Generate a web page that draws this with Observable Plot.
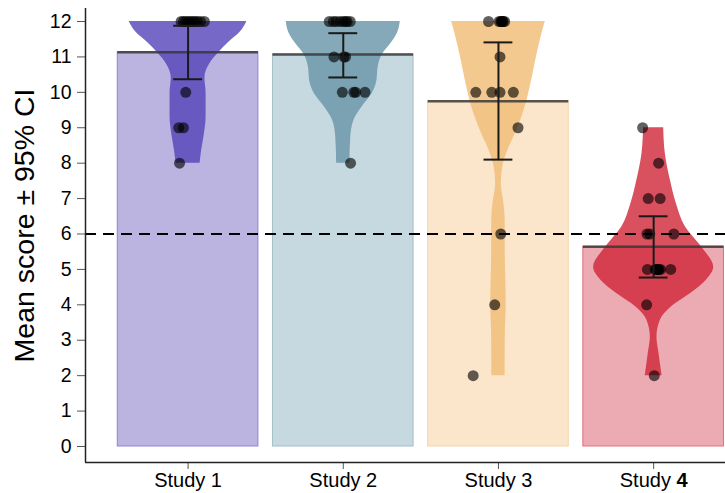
<!DOCTYPE html>
<html>
<head>
<meta charset="utf-8">
<script src="https://cdn.jsdelivr.net/npm/d3@7"></script>
<script src="https://cdn.jsdelivr.net/npm/@observablehq/plot@0.6"></script>
<style>
  html, body { margin: 0; padding: 0; background: #fff; }
  #chart { width: 725px; height: 493px; }
</style>
</head>
<body>
<div id="chart"></div>
<script>
// ---- data ----
const studies = ["Study 1", "Study 2", "Study 3", "Study 4"];
const yTicks = [0, 1, 2, 3, 4, 5, 6, 7, 8, 9, 10, 11, 12];
const means  = [11.13, 11.07, 9.75, 5.64];
const ciLow  = [10.37, 10.42, 8.10, 4.77];
const ciHigh = [11.88, 11.67, 11.41, 6.50];
const threshold = 6;

// individual scores and their horizontal jitter (fraction of a category step)
const scores1 = [12, 12, 12, 12, 12, 12, 12, 12, 12, 12, 10, 9, 9, 8];
const jitter1 = [-0.045, -0.03, -0.015, 0, 0.015, 0.03, 0.045, 0.06, 0.08, 0.105, -0.015, -0.06, -0.03, -0.055];
const scores2 = [12, 12, 12, 12, 12, 12, 12, 12, 11, 11, 11, 10, 10, 10, 10, 8];
const jitter2 = [-0.09, -0.064, -0.045, -0.02, 0, 0.015, 0.025, 0.045, -0.06, 0.004, 0.015, -0.006, 0.068, 0.08, 0.14, 0.047];
const scores3 = [12, 12, 12, 12, 12, 12, 12, 11, 10, 10, 10, 10, 9, 6, 4, 2];
const jitter3 = [-0.064, 0.004, 0.015, 0.02, 0.026, 0.03, 0.04, 0.01, -0.146, -0.043, 0.01, 0.096, 0.126, 0.015, -0.024, -0.163];
const scores4 = [9, 8, 7, 7, 6, 6, 6, 5, 5, 5, 5, 5, 5, 5, 5, 4, 2];
const jitter4 = [-0.071, 0.032, -0.035, 0.042, -0.043, -0.025, 0.13, -0.04, 0.01, 0.02, 0.025, 0.03, 0.035, 0.045, 0.11, -0.045, 0.004];

// violin outlines: score level and relative half-width (1 = widest violin)
const violinY1 = [8, 8.4, 8.8, 9.3, 10, 10.4, 10.8, 11.1, 11.4, 11.7, 12];
const violinW1 = [0.20, 0.23, 0.27, 0.30, 0.30, 0.28, 0.36, 0.50, 0.67, 0.87, 0.98];
const violinY2 = [8, 8.74, 9.2, 9.58, 9.96, 10.33, 10.71, 11.09, 11.37, 11.66, 12];
const violinW2 = [0.11, 0.125, 0.175, 0.31, 0.48, 0.56, 0.58, 0.66, 0.79, 0.90, 0.95];
const violinY3 = [2, 3.09, 4.04, 5.45, 6.38, 6.85, 7.42, 7.9, 8.36, 8.83, 9.3, 9.77, 10.24, 10.9, 11.56, 12];
const violinW3 = [0.11, 0.113, 0.128, 0.113, 0.112, 0.092, 0.047, 0.072, 0.155, 0.28, 0.39, 0.475, 0.54, 0.62, 0.71, 0.78];
const violinY4 = [2, 2.62, 3.09, 3.56, 3.93, 4.31, 4.69, 5.06, 5.63, 6.2, 6.85, 7.51, 8.26, 9];
const violinW4 = [0.14, 0.09, 0.055, 0.11, 0.29, 0.61, 0.875, 1.0, 0.8, 0.53, 0.38, 0.28, 0.195, 0.167];

const barFill    = ["#bbb4e0", "#c6d9e0", "#fbe5cb", "#ecabb3"];
const barStroke  = ["#8d84d6", "#a3bec8", "#f5d5a9", "#dc6f7e"];
const violinFill = ["#5242b8", "#6693a6", "#f0bb73", "#cf2437"];

// ---- tables built from the arrays ----
const scores = [scores1, scores2, scores3, scores4];
const jitters = [jitter1, jitter2, jitter3, jitter4];
const vYs = [violinY1, violinY2, violinY3, violinY4];
const vWs = [violinW1, violinW2, violinW3, violinW4];

const summary = studies.map((s, i) => ({i, s, mean: means[i], lo: ciLow[i], hi: ciHigh[i]}));
const points = studies.flatMap((s, i) => scores[i].map((v, j) => ({i, v, x: i + jitters[i][j]})));

const barHalf = 0.453;   // half bar width in category steps
const violinMax = 0.387; // widest violin half-width in category steps
const capHalf = 0.093;

const marks = [];
// bars
studies.forEach((s, i) => {
  marks.push(Plot.rect([summary[i]], {
    x1: d => d.i - barHalf, x2: d => d.i + barHalf, y1: 0, y2: "mean",
    fill: barFill[i], stroke: barStroke[i], strokeWidth: 1
  }));
});
// violins
studies.forEach((s, i) => {
  const prof = vYs[i].map((y, k) => ({i, y, w: vWs[i][k]}));
  marks.push(Plot.areaX(prof, {
    y: "y", x1: d => d.i - d.w * violinMax, x2: d => d.i + d.w * violinMax,
    fill: violinFill[i], fillOpacity: 0.8, curve: "monotone-y"
  }));
});
// reference line
marks.push(Plot.ruleY([threshold], {stroke: "#000", strokeWidth: 2, strokeDasharray: "11,7"}));
// mean lines
marks.push(Plot.ruleY(summary, {
  y: "mean", x1: d => d.i - barHalf, x2: d => d.i + barHalf,
  stroke: "#3a3a3a", strokeOpacity: 0.85, strokeWidth: 2.5
}));
// points
marks.push(Plot.dot(points, {x: "x", y: "v", r: 5.5, fill: "#000", fillOpacity: 0.62, stroke: "none"}));
// error bars
marks.push(Plot.ruleX(summary, {x: "i", y1: "lo", y2: "hi", stroke: "#1a1a1a", strokeWidth: 2}));
marks.push(Plot.ruleY(summary, {y: "lo", x1: d => d.i - capHalf, x2: d => d.i + capHalf, stroke: "#1a1a1a", strokeWidth: 2}));
marks.push(Plot.ruleY(summary, {y: "hi", x1: d => d.i - capHalf, x2: d => d.i + capHalf, stroke: "#1a1a1a", strokeWidth: 2}));
// axes
marks.push(Plot.axisY({ticks: yTicks, tickSize: 8, tickPadding: 6, fontSize: 19.5, label: null, stroke: "#555", fill: "#000"}));
marks.push(Plot.axisX({ticks: [0, 1, 2, 3], tickFormat: i => studies[i], tickSize: 7, tickPadding: 3, fontSize: 20, label: null, stroke: "#555", fill: "#000"}));
marks.push(Plot.ruleX([-0.661], {stroke: "#222", strokeWidth: 1.5}));
marks.push(Plot.ruleY([-0.452], {stroke: "#222", strokeWidth: 1.5}));
marks.push(Plot.text(["Mean score ± 95% CI"], {frameAnchor: "left", textAnchor: "middle", rotate: -90, dx: -61, dy: -10, fontSize: 28.5, fill: "#000"}));

const chart = Plot.plot({
  width: 725,
  height: 493,
  marginLeft: 85,
  marginRight: 0,
  marginTop: 8,
  marginBottom: 31,
  style: {fontFamily: "'Liberation Sans', Arial, sans-serif", color: "#000", background: "#fff"},
  x: {domain: [-0.661, 3.463], axis: null},
  y: {domain: [-0.452, 12.367], axis: null},
  marks
});

// bold the numeral in "Study 4"
chart.querySelectorAll("text").forEach(t => {
  if (t.textContent === "Study 4") {
    t.textContent = "Study ";
    const ts = document.createElementNS("http://www.w3.org/2000/svg", "tspan");
    ts.setAttribute("font-weight", "bold");
    ts.textContent = "4";
    t.appendChild(ts);
  }
});

document.getElementById("chart").appendChild(chart);
</script>
</body>
</html>
